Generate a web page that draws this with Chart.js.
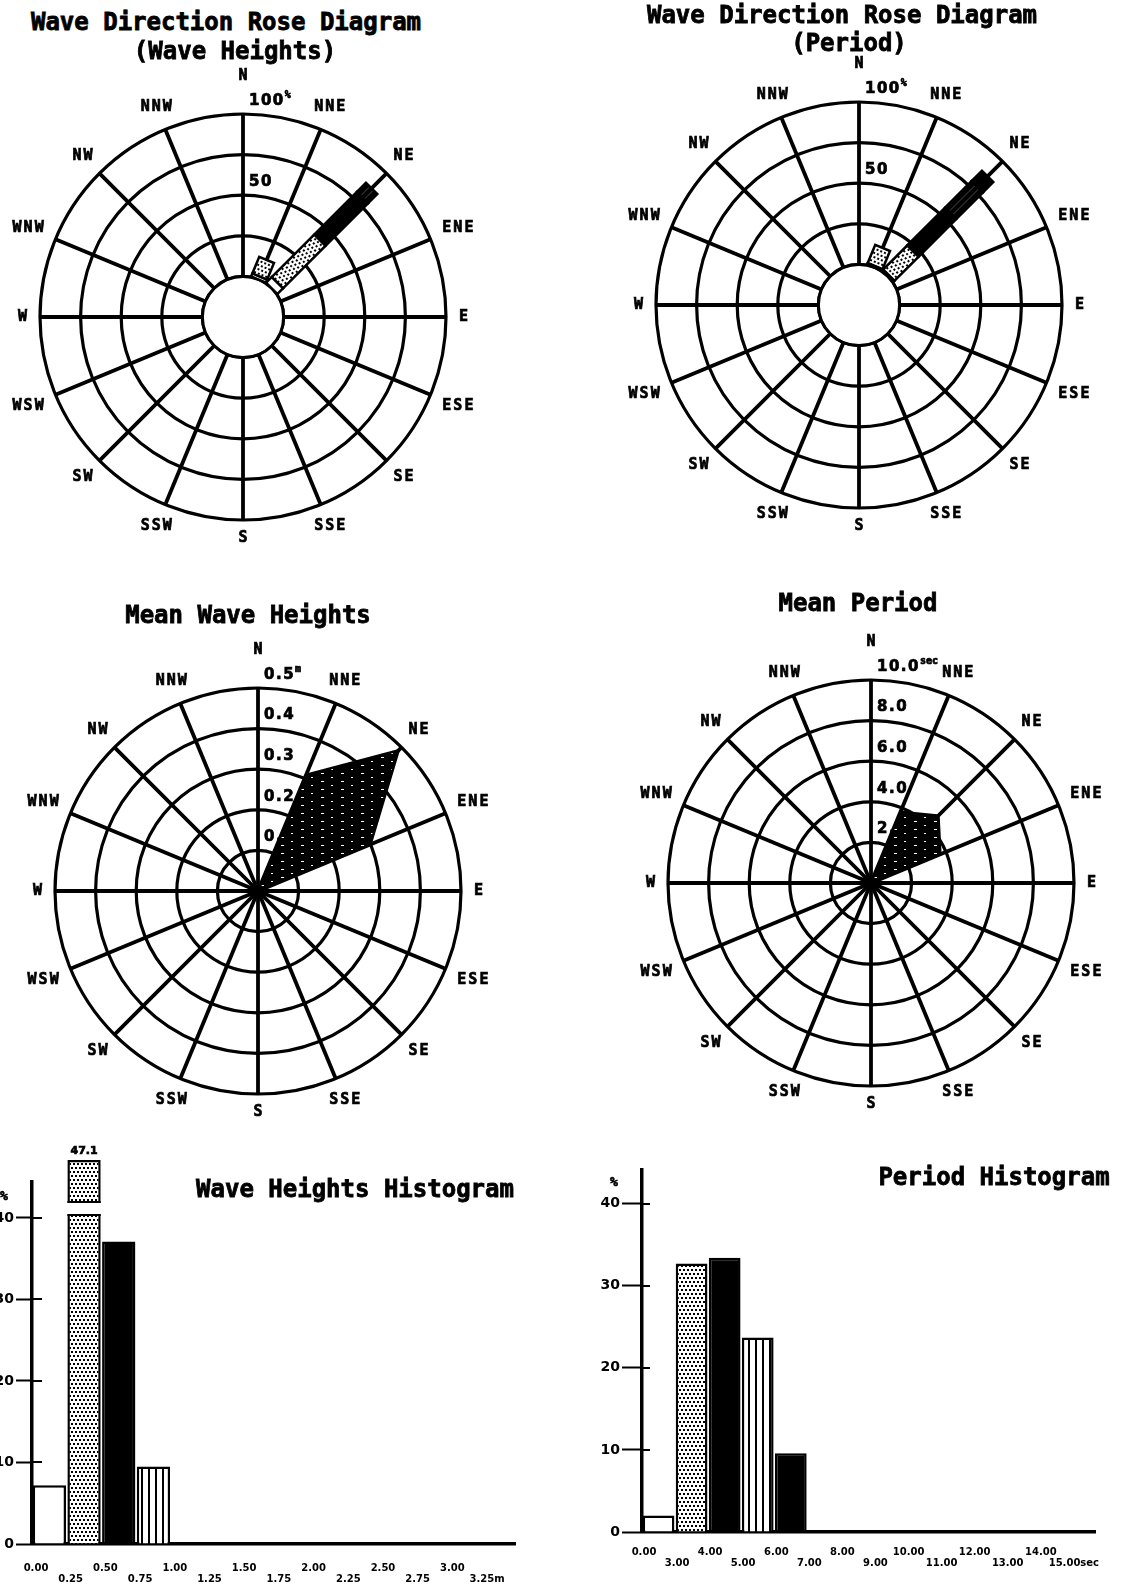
<!DOCTYPE html>
<html>
<head>
<meta charset="utf-8">
<script src="https://cdn.jsdelivr.net/npm/chart.js@4.4.1/dist/chart.umd.min.js"></script>
<style>
  html, body { margin: 0; padding: 0; background: #fff; }
  body { position: relative; width: 1136px; height: 1587px; overflow: hidden; }
  canvas { position: absolute; }
  .ttl { position: absolute; font: bold 24px "DejaVu Sans Mono", "Liberation Mono", monospace; color: #000;
         white-space: nowrap; transform: translate(-50%, -50%); line-height: 1; z-index: 2;
         -webkit-text-stroke: 0.8px #000; }
</style>
</head>
<body>
<div class="ttl" style="left:226px;top:22px">Wave Direction Rose Diagram</div>
<div class="ttl" style="left:235px;top:51px">(Wave Heights)</div>
<div class="ttl" style="left:842px;top:15px">Wave Direction Rose Diagram</div>
<div class="ttl" style="left:849px;top:43px">(Period)</div>
<div class="ttl" style="left:248px;top:615px">Mean Wave Heights</div>
<div class="ttl" style="left:858px;top:603px">Mean Period</div>
<div class="ttl" style="left:355px;top:1189px">Wave Heights Histogram</div>
<div class="ttl" style="left:994px;top:1177px">Period Histogram</div>
<script>
// ---- data ----------------------------------------------------------------
const directions = ['N','NNE','NE','ENE','E','ESE','SE','SSE','S','SSW','SW','WSW','W','WNW','NW','NNW'];

// occurrence (%) by direction, split into wave height classes (m)
const freqH000_025 = [0, 2,  5, 0, 0,0,0,0,0,0,0,0,0,0,0,0];
const freqH025_050 = [0, 11, 37, 0, 0,0,0,0,0,0,0,0,0,0,0,0];
const freqH050_075 = [0, 0, 37, 0, 0,0,0,0,0,0,0,0,0,0,0,0];
const freqH075_100 = [0, 0,  8, 0, 0,0,0,0,0,0,0,0,0,0,0,0];

// occurrence (%) by direction, split into period classes (s)
const freqT00_30 = [0, 1,  1, 0, 0,0,0,0,0,0,0,0,0,0,0,0];
const freqT30_40 = [0, 12, 21, 0, 0,0,0,0,0,0,0,0,0,0,0,0];
const freqT40_50 = [0, 0, 33, 0, 0,0,0,0,0,0,0,0,0,0,0,0];
const freqT50_60 = [0, 0, 23, 0, 0,0,0,0,0,0,0,0,0,0,0,0];
const freqT60_70 = [0, 0,  9, 0, 0,0,0,0,0,0,0,0,0,0,0,0];

// mean values by direction
const meanHeight = [0, 0.31, 0.49, 0.30, 0,0,0,0,0,0,0,0,0,0,0,0];
const meanPeriod = [0, 3.8, 4.7, 3.7, 0,0,0,0,0,0,0,0,0,0,0,0];

// ring values and their captions
const roseRings = [0, 25, 50, 75, 100];
const roseRingText = [{v: 100, t: '100', sup: '%'}, {v: 50, t: '50'}];
const heightRings = [0, 0.1, 0.2, 0.3, 0.4, 0.5];
const heightRingText = [{v: 0.5, t: '0.5', sup: 'm'}, {v: 0.4, t: '0.4'}, {v: 0.3, t: '0.3'}, {v: 0.2, t: '0.2'}, {v: 0.1, t: '0.1'}];
const periodRings = [0, 2, 4, 6, 8, 10];
const periodRingText = [{v: 10, t: '10.0', sup: 'sec'}, {v: 8, t: '8.0'}, {v: 6, t: '6.0'}, {v: 4, t: '4.0'}, {v: 2, t: '2.0'}];

// histograms: class boundaries and occurrence (%) per class
const heightEdgeLabels = ['0.00','0.25','0.50','0.75','1.00','1.25','1.50','1.75','2.00','2.25','2.50','2.75','3.00','3.25m'];
const heightPct = [7.2, 47.1, 37.1, 9.5, 0, 0, 0, 0, 0, 0, 0, 0, 0];
const periodEdgeLabels = ['0.00','3.00','4.00','5.00','6.00','7.00','8.00','9.00','10.00','11.00','12.00','13.00','14.00','15.00sec'];
const periodPct = [2.0, 32.7, 33.4, 23.7, 9.6, 0, 0, 0, 0, 0, 0, 0, 0];
const pctTicks = [0, 10, 20, 30, 40];

// ---- styling helpers -----------------------------------------------------
const FAMILY = '"DejaVu Sans Mono", "Liberation Mono", monospace';
const NUM_FAMILY = '"DejaVu Sans", "Liberation Sans", sans-serif';

function pattern(w, h, draw) {
  const c = document.createElement('canvas');
  c.width = w; c.height = h;
  const g = c.getContext('2d');
  draw(g, w, h);
  return g.createPattern(c, 'repeat');
}
const DOTS = pattern(8, 8, (g, w, h) => {
  g.fillStyle = '#fff'; g.fillRect(0, 0, w, h);
  g.fillStyle = '#000';
  g.fillRect(1, 1, 2, 2); g.fillRect(5, 1, 2, 2);
  g.fillRect(3, 5, 2, 2); g.fillRect(7, 5, 1, 2); g.fillRect(0, 5, 1, 2);
});
const STRIPES = pattern(7, 4, (g, w, h) => {
  g.fillStyle = '#fff'; g.fillRect(0, 0, w, h);
  g.fillStyle = '#000'; g.fillRect(2, 0, 2, h);
});
// dense stripes for the narrow rose bars: reads as nearly solid
const DARK_STRIPES = pattern(5, 4, (g, w, h) => {
  g.fillStyle = '#000'; g.fillRect(0, 0, w, h);
  g.fillStyle = '#3a3a3a'; g.fillRect(2, 0, 1, h);
});
const HATCH = pattern(20, 8, (g, w, h) => {
  g.fillStyle = '#000'; g.fillRect(0, 0, w, h);
  g.fillStyle = '#fff'; g.fillRect(3, 2, 3, 1); g.fillRect(13, 6, 2, 1);
});

function addCanvas(left, top, w, h) {
  const c = document.createElement('canvas');
  c.width = w; c.height = h;
  c.style.left = left + 'px'; c.style.top = top + 'px';
  c.style.width = w + 'px'; c.style.height = h + 'px';
  document.body.appendChild(c);
  return c;
}

function boldText(ctx, text, x, y) {
  ctx.fillText(text, x, y);
  ctx.lineWidth = 0.7;
  ctx.strokeStyle = '#000';
  ctx.strokeText(text, x, y);
}

// ---- rose / radial plugin ------------------------------------------------
const roseDecor = {
  id: 'roseDecor',
  beforeDatasetsDraw(chart, args, o) {
    const s = chart.scales.r, ctx = chart.ctx;
    ctx.save();
    if (o.hub) {
      const r0 = s.getDistanceFromCenterForValue(0);
      ctx.fillStyle = '#fff';
      ctx.beginPath(); ctx.arc(s.xCenter, s.yCenter, r0 - 1, 0, Math.PI * 2); ctx.fill();
      ctx.strokeStyle = '#000'; ctx.lineWidth = 3;
      ctx.beginPath(); ctx.arc(s.xCenter, s.yCenter, r0, 0, Math.PI * 2); ctx.stroke();
    }
    // ring captions to the right of the north spoke
    ctx.fillStyle = '#000';
    ctx.textAlign = 'left'; ctx.textBaseline = 'middle';
    (o.ringText || []).forEach(rt => {
      const y = s.yCenter - s.getDistanceFromCenterForValue(rt.v) - 13;
      const x = s.xCenter + 6;
      ctx.font = `bold 15px ${NUM_FAMILY}`;
      ctx.letterSpacing = '1.5px';
      boldText(ctx, rt.t, x, y);
      if (rt.sup) {
        const w = ctx.measureText(rt.t).width;
        ctx.font = `bold 10px ${FAMILY}`;
        ctx.letterSpacing = '0px';
        boldText(ctx, rt.sup, x + w, y - 6);
      }
    });
    // compass point names
    ctx.font = `bold 15px ${FAMILY}`;
    ctx.letterSpacing = '2px';
    ctx.textAlign = 'center';
    chart.data.labels.forEach((lab, i) => {
      const a = s.getIndexAngle(i);
      const w = ctx.measureText(lab).width;
      const extra = (w / 2) * Math.abs(Math.sin(a)) + 6 * Math.abs(Math.cos(a)) + (i === 0 ? 20 : 0);
      const p = s.getPointPosition(i, s.drawingArea + 12 + extra);
      boldText(ctx, lab, p.x + 1, p.y);
    });
    ctx.restore();
  },
  afterDatasetsDraw(chart, args, o) {
    if (!o.fills) return;
    const s = chart.scales.r, ctx = chart.ctx;
    const bw = 16;
    chart.data.labels.forEach((lab, i) => {
      let cum = 0;
      chart.data.datasets.forEach((ds, k) => {
        const v = ds.data[i];
        if (!v) return;
        const d0 = s.getDistanceFromCenterForValue(cum);
        const d1 = s.getDistanceFromCenterForValue(cum + v);
        cum += v;
        ctx.save();
        ctx.translate(s.xCenter, s.yCenter);
        ctx.rotate(s.getIndexAngle(i));
        ctx.fillStyle = o.fills[k];
        ctx.fillRect(-bw / 2, -d1, bw, d1 - d0);
        ctx.strokeStyle = '#000'; ctx.lineWidth = 2.5;
        ctx.strokeRect(-bw / 2, -d1, bw, d1 - d0);
        ctx.restore();
      });
    });
  }
};

function radialChart(cx, cy, R, cfg) {
  const half = 280;
  const canvas = addCanvas(cx - half, cy - half, half * 2, half * 2);
  return new Chart(canvas, {
    type: 'radar',
    data: { labels: directions, datasets: cfg.datasets },
    options: {
      responsive: false, animation: false, devicePixelRatio: 1, events: [],
      layout: { padding: half - R },
      elements: { line: { tension: 0 }, point: { radius: 0, hoverRadius: 0 } },
      plugins: { legend: { display: false }, tooltip: { enabled: false }, roseDecor: cfg.decor },
      scales: {
        r: {
          min: cfg.min, max: cfg.max,
          afterBuildTicks: s => { s.ticks = cfg.rings.map(v => ({ value: v })); },
          ticks: { display: false },
          pointLabels: { display: false },
          grid: { circular: true, color: '#000', lineWidth: 3.2 },
          angleLines: { display: true, color: '#000', lineWidth: 3.8 }
        }
      }
    },
    plugins: [roseDecor]
  });
}

function stackSets(series) {
  return series.map(d => ({ data: d, showLine: false, fill: false, pointRadius: 0, borderWidth: 0 }));
}

// Wave direction rose (wave heights), rings 0..100 % with a hub at 0
radialChart(243, 317, 203, {
  min: -25, max: 100, rings: roseRings,
  datasets: stackSets([freqH000_025, freqH025_050, freqH050_075, freqH075_100]),
  decor: { hub: true, ringText: roseRingText, fills: ['#fff', DOTS, '#000', DARK_STRIPES] }
});

// Wave direction rose (period)
radialChart(859, 305, 203, {
  min: -25, max: 100, rings: roseRings,
  datasets: stackSets([freqT00_30, freqT30_40, freqT40_50, freqT50_60, freqT60_70]),
  decor: { hub: true, ringText: roseRingText, fills: ['#fff', DOTS, '#000', DARK_STRIPES, '#000'] }
});

// Mean wave heights
radialChart(258, 891, 203, {
  min: 0, max: 0.5, rings: heightRings,
  datasets: [{ data: meanHeight, fill: true, backgroundColor: HATCH, borderColor: '#000', borderWidth: 2.5, pointRadius: 0 }],
  decor: { hub: false, ringText: heightRingText }
});

// Mean period
radialChart(871, 883, 203, {
  min: 0, max: 10, rings: periodRings,
  datasets: [{ data: meanPeriod, fill: true, backgroundColor: HATCH, borderColor: '#000', borderWidth: 2.5, pointRadius: 0 }],
  decor: { hub: false, ringText: periodRingText }
});

// ---- histograms ----------------------------------------------------------
const histDecor = {
  id: 'histDecor',
  afterDatasetsDraw(chart, args, o) {
    const ctx = chart.ctx, x = chart.scales.x, y = chart.scales.y;
    const meta = chart.getDatasetMeta(0);
    ctx.save();
    // tick marks continue a little to the right of the axis
    ctx.strokeStyle = '#000'; ctx.lineWidth = 2;
    y.ticks.forEach(t => {
      if (t.value === 0) return;
      const py = Math.round(y.getPixelForValue(t.value));
      ctx.beginPath(); ctx.moveTo(x.left, py); ctx.lineTo(x.left + o.stub, py); ctx.stroke();
    });
    // unit above the axis
    ctx.fillStyle = '#000';
    ctx.textAlign = 'center'; ctx.textBaseline = 'middle';
    ctx.font = `bold 13px ${FAMILY}`;
    boldText(ctx, '%', x.left - 28, y.getPixelForValue(pctTicks[pctTicks.length - 1]) - 21);
    // classes taller than the axis: broken bar with its value on top
    chart.data.datasets[0].data.forEach((p, i) => {
      if (p.y <= y.max) return;
      const bar = meta.data[i];
      const hw = bar.width / 2;
      const top = Math.round(y.getPixelForValue(o.breakAt[1]));
      const bot = Math.round(y.getPixelForValue(o.breakAt[0]));
      ctx.fillStyle = '#fff';
      ctx.fillRect(bar.x - hw - 2, top, bar.width + 4, bot - top);
      ctx.fillStyle = '#000';
      ctx.fillRect(bar.x - hw, top - 2, bar.width, 2);
      ctx.fillRect(bar.x - hw, bot, bar.width, 2);
      ctx.font = `bold 11px ${NUM_FAMILY}`;
      ctx.textBaseline = 'bottom';
      boldText(ctx, p.y.toFixed(1), bar.x, bar.y - 3);
    });
    ctx.restore();
  }
};

function histChart(left, top, w, h, cfg) {
  const canvas = addCanvas(left, top, w, h);
  return new Chart(canvas, {
    type: 'bar',
    data: {
      datasets: [{
        data: cfg.values.map((v, i) => ({ x: i + 0.5, y: v })),
        backgroundColor: cfg.fills, borderColor: '#000', borderWidth: 2.5, borderSkipped: 'start',
        clip: false, barPercentage: 0.96, categoryPercentage: 1
      }]
    },
    options: {
      responsive: false, animation: false, devicePixelRatio: 1, events: [],
      layout: { padding: cfg.padding },
      plugins: { legend: { display: false }, tooltip: { enabled: false }, histDecor: { stub: cfg.stub, breakAt: [40.5, 41.8] } },
      scales: {
        x: {
          type: 'linear', min: 0, max: cfg.xMax, offset: false,
          afterBuildTicks: s => { s.ticks = cfg.labels.map((_, i) => ({ value: i })); },
          afterFit: s => { s.height = 40; },
          grid: { display: false, offset: false },
          border: { display: true, color: '#000', width: 3.5 },
          ticks: {
            autoSkip: false, maxRotation: 0, minRotation: 0, padding: cfg.xPad, labelOffset: cfg.labelOffset,
            color: '#000', font: { family: NUM_FAMILY, size: 10, weight: 'bold', lineHeight: 1.1 },
            callback: (v, i) => (i % 2 ? ['', cfg.labels[i]] : cfg.labels[i])
          }
        },
        y: {
          min: 0, max: cfg.yMax,
          afterBuildTicks: s => { s.ticks = pctTicks.map(v => ({ value: v })); },
          afterFit: s => { s.width = cfg.yWidth; },
          grid: { drawOnChartArea: false, drawTicks: true, tickLength: cfg.tickLen, tickWidth: 2, tickColor: '#000', color: '#000' },
          border: { display: true, color: '#000', width: 3.5 },
          ticks: { padding: 2, color: '#000', font: { family: NUM_FAMILY, size: 14, weight: 'bold' }, callback: v => String(v) }
        }
      }
    },
    plugins: [histDecor]
  });
}

histChart(-8, 1130, 540, 457, {
  values: heightPct, labels: heightEdgeLabels,
  fills: ['#fff', DOTS, '#000', STRIPES, '#fff', '#fff', '#fff', '#fff', '#fff', '#fff', '#fff', '#fff', '#fff'],
  padding: { left: 0, top: 52, right: 17, bottom: 3 },
  xMax: 13.92, yMax: 44.4, yWidth: 40, tickLen: 16, stub: 10, xPad: 11, labelOffset: 4
});

histChart(592, 1120, 544, 467, {
  values: periodPct, labels: periodEdgeLabels,
  fills: ['#fff', DOTS, '#000', STRIPES, '#000', '#fff', '#fff', '#fff', '#fff', '#fff', '#fff', '#fff', '#fff'],
  padding: { left: 0, top: 50, right: 41, bottom: 15 },
  xMax: 13.7, yMax: 44.1, yWidth: 50, tickLen: 20, stub: 8, xPad: 7, labelOffset: 2
});
</script>
</body>
</html>
